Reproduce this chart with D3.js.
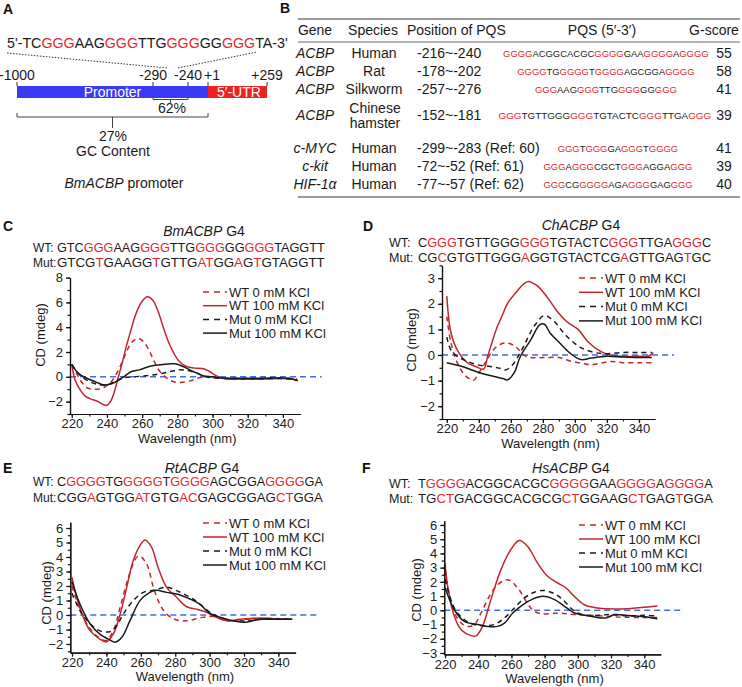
<!DOCTYPE html>
<html>
<head>
<meta charset="utf-8" />
<script src="https://d3js.org/d3.v7.min.js"></script>
<style>
  body { margin: 0; background: #fff; }
  svg { font-family: "Liberation Sans", Arial, sans-serif; }
  .axis path, .axis line { stroke: #111; stroke-width: 1.2px; }
  .axis text { font-size: 13px; fill: #222; font-family: "Liberation Sans", Arial, sans-serif; }
</style>
</head>
<body>
<svg id="fig" width="742" height="687"></svg>
<script>
// ---------- data ----------
// panel A
var promoterSeq = "5'-TC[GGG]AAG[GGG]TTG[GGG]GG[GGG]TA-3'";
var promoterTicks = [-1000, -290, -240, 1, 259];
var promoterTickLabels = ["-1000", "-290", "-240", "+1", "+259"];

// panel B table
var tblGenes = ["ACBP", "ACBP", "ACBP", "ACBP", "c-MYC", "c-kit", "HIF-1\u03b1"];
var tblSpecies = ["Human", "Rat", "Silkworm", "Chinese|hamster", "Human", "Human", "Human"];
var tblPositions = ["-216~-240", "-178~-202", "-257~-276", "-152~-181",
  "-299~-283 (Ref: 60)", "-72~-52 (Ref: 61)", "-77~-57 (Ref: 62)"];
var tblPqs = [
  "[GGGG]ACGGCACGC[GGGG]GAA[GGGG]A[GGGG]",
  "[GGGG]TG[GGGG]T[GGGG]AGCGGA[GGGG]",
  "[GGG]AAG[GGG]TTG[GGG]GG[GGG]",
  "[GGG]TGTTGGG[GGG]TGTACTC[GGG]TTGA[GGG]",
  "[GGG]T[GGG]GA[GGG]T[GGGG]",
  "[GGG]A[GGG]CGCT[GGG]AGGA[GGG]",
  "[GGG]CG[GGGG]AGA[GGG]GAG[GGG]"
];
var tblScores = [55, 58, 41, 39, 41, 39, 40];

// panels C-F sequences
var seqC = ["GTC[GGG]AAG[GGG]TTG[GGG]GG[GGG]TAGGTT", "GTCG[T]GAAGG[T]GTTG[AT]GG[A]G[T]GTAGGTT"];
var seqD = ["C[GGG]TGTTGGG[GGG]TGTACTC[GGG]TTGA[GGG]C", "CG[C]GTGTTGGG[A]GGTGTACTCG[A]GTTGAG[T]GC"];
var seqE = ["C[GGGG]TG[GGGG]T[GGGG]AGCGGA[GGGG]GA", "CGG[A]GTGG[AT]GTG[AC]GAGCGGAG[CT]GGA"];
var seqF = ["T[GGGG]ACGGCACGC[GGGG]GAA[GGGG]A[GGGG]A", "TG[CT]GACGGCACGCG[CT]GGAAG[CT]GAG[T]GGA"];

var legendLabels = ["WT 0 mM KCl", "WT 100 mM KCl", "Mut 0 mM KCl", "Mut 100 mM KCl"];

// CD spectra: [wavelength (nm), CD (mdeg)]
var cWt0 = [[220,1.0],[223,0.2],[226,-0.5],[229,-0.9],[233,-1.0],[237,-0.95],[240,-0.7],[243,-0.3],[246,0.4],[249,1.3],[252,2.3],[255,2.9],[258,3.1],[261,2.8],[264,2.1],[267,1.2],[270,0.45],[274,-0.1],[278,-0.4],[282,-0.45],[287,-0.35],[292,-0.1],[297,0.0],[305,-0.1],[320,-0.12],[335,-0.1],[348,-0.15]];
var cWt100 = [[220,1.0],[222,-0.3],[225,-1.1],[228,-1.6],[232,-1.85],[235,-2.0],[238,-2.25],[240,-2.3],[242,-2.0],[244,-1.3],[246.5,0.0],[249,1.3],[251,2.45],[253.5,3.7],[256,4.9],[258,5.6],[260,6.1],[263,6.45],[266,6.2],[269,5.3],[272,4.0],[275,2.8],[278,1.9],[281,1.25],[285,0.85],[290,0.7],[295,0.65],[298,0.45],[302,0.1],[307,-0.15],[315,-0.2],[325,-0.2],[335,-0.15],[343,-0.15],[348,-0.25]];
var cMut0 = [[220,1.0],[224.5,0.16],[230,-0.38],[236,-0.65],[240,-0.65],[244.5,-0.38],[249,-0.1],[255,0.0],[262,0.08],[270,0.24],[276,0.43],[281,0.56],[286,0.5],[291,0.3],[296.5,0.0],[302,-0.1],[315,-0.15],[330,-0.15],[342,-0.15],[348,-0.3]];
var cMut100 = [[220,1.0],[223.6,0.3],[228.3,-0.1],[235,-0.5],[238,-0.65],[241.6,-0.6],[245.4,-0.38],[249,-0.05],[254,0.43],[258.5,0.56],[264,0.83],[270,0.97],[278.6,1.05],[284,0.78],[289,0.43],[294.7,0.08],[300,0.0],[305,-0.1],[320,-0.12],[335,-0.1],[343,-0.12],[348.6,-0.3]];

var dWt0 = [[220,1.5],[222.5,0.5],[226.5,-0.3],[231,-0.77],[235,-0.96],[237,-0.98],[239,-0.8],[244,-0.3],[249,0.2],[253,0.4],[257,0.47],[261,0.4],[264,0.27],[268,0.0],[272,-0.1],[280,-0.1],[290,-0.1],[298,-0.25],[305,-0.33],[310,-0.38],[316,-0.32],[322,-0.25],[330,-0.3],[340,-0.3],[348,-0.3]];
var dWt100 = [[220,2.3],[222.5,0.9],[226.5,0.2],[233,-0.31],[238,-0.45],[243,-0.55],[245.5,-0.05],[248.5,0.55],[251.5,1.1],[255,1.6],[258,2.03],[264,2.5],[268,2.78],[271,2.87],[274,2.8],[277,2.68],[283,2.23],[289,1.7],[295,1.3],[302,1.0],[308,0.53],[316,0.14],[322,0.0],[330,-0.05],[340,-0.05],[346,-0.05],[349,0.1]];
var dMut0 = [[220,0.7],[222.5,0.2],[226.5,-0.05],[233,-0.25],[239,-0.38],[247,-0.45],[253,-0.52],[257,-0.58],[262,-0.31],[265,0.0],[268,0.34],[274.5,1.12],[281,1.54],[287,1.31],[293,0.86],[299.5,0.47],[305,0.25],[312,0.1],[320,0.05],[330,0.1],[340,0.1],[348,0.1]];
var dMut100 = [[220,-0.3],[229,-0.44],[241,-0.7],[249,-0.83],[255,-0.92],[258,-0.97],[262,-0.7],[266,-0.05],[272.5,0.6],[278,1.18],[281,1.2],[284.5,0.86],[290.5,0.47],[297,0.07],[303.8,-0.18],[310,-0.12],[320,-0.05],[330,-0.08],[340,-0.1],[348,-0.1]];

var eWt0 = [[220,2.0],[222.7,1.0],[228.5,-0.6],[234.3,-1.43],[240,-1.75],[244,-1.08],[248,0.53],[252.8,2.6],[257.6,3.98],[259.5,4.05],[263.4,3.52],[267.3,1.91],[271,0.76],[275,0.07],[280.8,-0.34],[286.7,-0.4],[294.4,-0.2],[302,-0.1],[310,-0.4],[320,-0.3],[330,-0.3],[340,-0.3],[348,-0.3]];
var eWt100 = [[220,2.6],[222.7,1.22],[226.6,-0.16],[230.5,-1.08],[236,-1.65],[240,-1.85],[244,-1.31],[248,0.07],[251.8,1.91],[255.6,3.75],[259.5,4.78],[262.4,5.17],[266.3,4.67],[270,3.29],[275,1.91],[280.8,1.22],[286.7,0.57],[292.5,0.4],[298.3,0.18],[304,-0.16],[310,-0.4],[317.5,-0.3],[329,-0.2],[338,-0.25],[348,-0.3]];
var eMut0 = [[220,1.5],[224.6,0.3],[230.5,-0.6],[236,-1.08],[242,-1.15],[246,-0.74],[249.8,0.07],[255.6,0.99],[261.5,1.56],[267.3,1.7],[275,1.91],[280.8,1.68],[288.6,1.22],[294.4,0.76],[300.2,0.18],[306,-0.16],[313.7,-0.4],[321,-0.4],[330,-0.3],[340,-0.25],[348,-0.3]];
var eMut100 = [[220,2.3],[224.6,0.76],[230.5,-0.6],[236,-1.3],[242,-1.72],[245,-1.88],[249,-1.54],[253.7,-0.39],[259.5,0.99],[265.3,1.56],[269,1.7],[275,1.56],[280.8,1.45],[288.6,1.1],[294,0.76],[300,0.12],[306,-0.16],[313.7,-0.4],[321,-0.5],[329,-0.3],[340,-0.3],[348,-0.3]];

var fWt0 = [[220,2.8],[223.7,0.5],[228.7,-0.78],[233.7,-1.13],[237.7,-1.0],[241.7,-0.19],[246.7,0.98],[251.7,1.8],[257.8,2.15],[263.8,1.57],[268.9,0.63],[273,0.0],[277.8,-0.24],[288,-0.2],[298,-0.3],[310,-0.36],[326,-0.48],[340,-0.5],[348,-0.5]];
var fWt100 = [[220,3.3],[221.6,1.69],[225.6,-0.42],[229.7,-1.36],[235.7,-1.78],[238.7,-1.8],[242.6,-1.13],[247.6,0.75],[253.7,2.86],[259.6,4.26],[264.7,4.9],[269.7,4.5],[275.7,3.33],[281.8,2.39],[287.8,1.92],[292.9,1.57],[297.9,0.98],[303.9,0.39],[312,0.16],[326,0.1],[338,0.2],[348,0.3]];
var fMut0 = [[220,2.2],[225.6,0.16],[231.6,-0.66],[237.7,-1.0],[243.7,-1.08],[249.7,-1.0],[255.8,-0.54],[261.8,0.16],[267.8,0.87],[273.9,1.27],[278.9,1.4],[285,1.22],[290.9,0.75],[297,0.04],[303,-0.3],[310,-0.36],[320,-0.3],[330,-0.4],[340,-0.35],[348,-0.4]];
var fMut100 = [[220,1.6],[225.6,0.04],[231.6,-0.78],[239.7,-1.0],[245.7,-1.13],[251.7,-1.13],[255.8,-0.9],[260.8,-0.19],[266.8,0.39],[272.8,0.79],[279,0.98],[286,0.75],[292,0.28],[298,-0.19],[305,-0.36],[317,-0.54],[322,-0.3],[330,-0.36],[340,-0.45],[348,-0.6]];

// ---------- drawing ----------
var SEQ_RED = "#e3262d", CURVE_RED = "#c3252c", INK = "#1a1a1a";
var svg = d3.select("#fig");

// coloured sequence; if width given, font size is scaled so the text spans it
function seqText(g, x, y, str, size, width, anchor) {
  var t = g.append("text").attr("x", x).attr("y", y)
    .attr("font-size", size).attr("text-anchor", anchor || "start");
  str.split(/(\[[^\]]*\])/).filter(Boolean).forEach(function(s) {
    var red = s.charAt(0) === "[";
    t.append("tspan").attr("fill", red ? SEQ_RED : INK).text(red ? s.slice(1, -1) : s);
  });
  if (width) {
    var w = t.node().getComputedTextLength();
    t.attr("font-size", (size * width / w).toFixed(2));
  }
  return t;
}

function letter(x, y, s) {
  svg.append("text").attr("x", x).attr("y", y).attr("font-size", 14)
    .attr("font-weight", "bold").attr("fill", "#111").text(s);
}

// ----- panel A -----
letter(3, 14, "A");
var gA = svg.append("g");
seqText(gA, 7, 48, promoterSeq, 14, 281);
gA.append("line").attr("x1", 7).attr("y1", 53).attr("x2", 167).attr("y2", 68)
  .attr("stroke", "#333").attr("stroke-dasharray", "1.5,1.5");
gA.append("line").attr("x1", 178).attr("y1", 68).attr("x2", 257).attr("y2", 52)
  .attr("stroke", "#333").attr("stroke-dasharray", "1.5,1.5");

var pos = d3.scaleLinear().domain(promoterTicks).range([17, 153, 188, 208, 267]);
gA.append("rect").attr("x", pos(-1000)).attr("y", 86).attr("width", pos(1) - pos(-1000))
  .attr("height", 12).attr("fill", "#3a3af2");
gA.append("rect").attr("x", pos(1)).attr("y", 86).attr("width", pos(259) - pos(1))
  .attr("height", 12).attr("fill", "#ee2222");
gA.append("text").attr("x", (pos(-1000) + pos(1)) / 2).attr("y", 97).attr("text-anchor", "middle")
  .attr("font-size", 14).attr("fill", "#fff").text("Promoter");
gA.append("text").attr("x", pos(1) + 9).attr("y", 97)
  .attr("font-size", 14).attr("fill", "#fff").text("5\u2032-UTR");
promoterTicks.forEach(function(v, i) {
  gA.append("line").attr("x1", pos(v)).attr("x2", pos(v)).attr("y1", 82).attr("y2", 86)
    .attr("stroke", "#333");
  gA.append("text").attr("x", pos(v) + (i === 3 ? 4 : 0)).attr("y", 80)
    .attr("text-anchor", "middle").attr("font-size", 14).attr("fill", INK)
    .text(promoterTickLabels[i]);
});
function bracket(a, b, top, bottom, stem) {
  var m = (pos(a) + pos(b)) / 2;
  gA.append("path").attr("fill", "none").attr("stroke", "#444").attr("stroke-width", 1)
    .attr("d", "M" + pos(a) + "," + top + "V" + bottom + "H" + pos(b) + "V" + top +
      "M" + m + "," + bottom + "V" + stem);
}
bracket(-290, -240, 96, 99.5, 103);
gA.append("text").attr("x", 172).attr("y", 113).attr("text-anchor", "middle")
  .attr("font-size", 14).attr("fill", INK).text("62%");
bracket(-1000, 1, 113, 117, 128);
gA.append("text").attr("x", 113).attr("y", 141).attr("text-anchor", "middle")
  .attr("font-size", 14).attr("fill", INK).text("27%");
gA.append("text").attr("x", 113).attr("y", 156).attr("text-anchor", "middle")
  .attr("font-size", 14).attr("fill", INK).text("GC Content");
var cap = gA.append("text").attr("x", 124).attr("y", 188).attr("text-anchor", "middle")
  .attr("font-size", 14).attr("fill", INK);
cap.append("tspan").attr("font-style", "italic").text("BmACBP");
cap.append("tspan").text(" promoter");

// ----- panel B -----
letter(280, 13, "B");
var gB = svg.append("g").attr("font-size", 14).attr("fill", INK);
gB.append("line").attr("x1", 298).attr("x2", 740).attr("y1", 19).attr("y2", 19)
  .attr("stroke", "#9a9a9a").attr("stroke-width", 2);
gB.append("line").attr("x1", 298).attr("x2", 740).attr("y1", 42).attr("y2", 42)
  .attr("stroke", "#9a9a9a").attr("stroke-width", 1.5);
gB.append("line").attr("x1", 298).attr("x2", 740).attr("y1", 197).attr("y2", 197)
  .attr("stroke", "#9a9a9a").attr("stroke-width", 2);
[["Gene", 315, "middle"], ["Species", 373, "middle"], ["Position of PQS", 407, "start"],
 ["PQS (5\u2032-3\u2032)", 602, "middle"], ["G-score", 714, "middle"]].forEach(function(h) {
  gB.append("text").attr("x", h[1]).attr("y", 35).attr("text-anchor", h[2]).text(h[0]);
});
var rowY = [58, 76, 94, 120, 153, 171, 189];
var pqsCenter = [606, 606, 606, 605, 618, 618, 618];
tblGenes.forEach(function(g, i) {
  var y = rowY[i];
  gB.append("text").attr("x", 315).attr("y", y).attr("text-anchor", "middle")
    .attr("font-style", "italic").text(g);
  var sp = tblSpecies[i].split("|");
  if (sp.length > 1) {
    sp.forEach(function(s, k) {
      gB.append("text").attr("x", 375).attr("y", y - 7 + k * 15).attr("text-anchor", "middle").text(s);
    });
  } else {
    gB.append("text").attr("x", 374).attr("y", y).attr("text-anchor", "middle").text(sp[0]);
  }
  gB.append("text").attr("x", 417).attr("y", y).text(tblPositions[i]);
  var n = tblPqs[i].replace(/[\[\]]/g, "").length;
  seqText(gB, pqsCenter[i] - n * 3.55, y - 1, tblPqs[i], 10, n * 7.1);
  gB.append("text").attr("x", 724).attr("y", y).attr("text-anchor", "middle").text(tblScores[i]);
});

// ----- CD panels -----
var panels = [
  { letter: "C", lx: 3, ly: 231, gene: "BmACBP", tx: 204, ty: 236, labX: 33, labSize: 12, seqX: 57, seqW: 268,
    wtY: 251.5, mutY: 266.5, seq: seqC, series: [cWt0, cWt100, cMut0, cMut100],
    xd: [219, 350], xr: [70, 300.5], yd: [-3, 8], yr: [414, 277.6],
    yMajor: [-2, 0, 2, 4, 6, 8], yMinor: d3.range(-3, 8.01, 1),
    legX: 203, legY: 292, legDy: 13.7, ylab: [45, 335] },
  { letter: "D", lx: 363, ly: 231, gene: "ChACBP", tx: 581, ty: 230, labX: 389, labSize: 12.5, seqX: 418, seqW: 293,
    wtY: 247, mutY: 261.5, seq: seqD, series: [dWt0, dWt100, dMut0, dMut100],
    xd: [217, 350], xr: [442, 655], yd: [-2.5, 3.5], yr: [419, 265.4],
    yMajor: [-2, -1, 0, 1, 2, 3], yMinor: d3.range(-2.5, 3.51, 0.5),
    legX: 579, legY: 278, legDy: 14.3, ylab: [416, 340] },
  { letter: "E", lx: 3, ly: 473, gene: "RtACBP", tx: 202, ty: 473, labX: 33, labSize: 12, seqX: 57, seqW: 266,
    wtY: 486, mutY: 502, seq: seqE, series: [eWt0, eWt100, eMut0, eMut100],
    xd: [219, 350], xr: [70.3, 295.6], yd: [-2.6, 6.4], yr: [652.7, 522.2],
    yMajor: [-2, -1, 0, 1, 2, 3, 4, 5, 6], yMinor: d3.range(-2.5, 6.01, 0.5),
    legX: 203, legY: 523, legDy: 14, ylab: [51, 593] },
  { letter: "F", lx: 362, ly: 473, gene: "HsACBP", tx: 571, ty: 473, labX: 389, labSize: 12.5, seqX: 418, seqW: 295,
    wtY: 487.5, mutY: 502.5, seq: seqF, series: [fWt0, fWt100, fMut0, fMut100],
    xd: [219.5, 350], xr: [444.2, 660.8], yd: [-3.1, 6.3], yr: [654.4, 520.7],
    yMajor: [-3, -2, -1, 0, 1, 2, 3, 4, 5, 6], yMinor: d3.range(-3, 6.01, 0.5),
    legX: 579, legY: 525, legDy: 14, ylab: [421, 590] }
];
var styles = [
  { color: CURVE_RED, dash: "5,4" },
  { color: CURVE_RED, dash: null },
  { color: INK, dash: "5,4" },
  { color: INK, dash: null }
];

panels.forEach(function(p) {
  var g = svg.append("g");
  letter(p.lx, p.ly, p.letter);
  var title = g.append("text").attr("x", p.tx).attr("y", p.ty).attr("text-anchor", "middle")
    .attr("font-size", 14).attr("fill", INK);
  title.append("tspan").attr("font-style", "italic").text(p.gene);
  title.append("tspan").text(" G4");
  g.append("text").attr("x", p.labX).attr("y", p.wtY).attr("font-size", p.labSize).attr("fill", INK).text("WT:");
  g.append("text").attr("x", p.labX).attr("y", p.mutY).attr("font-size", p.labSize).attr("fill", INK).text("Mut:");
  seqText(g, p.seqX, p.wtY, p.seq[0], 13, p.seqW);
  seqText(g, p.seqX, p.mutY, p.seq[1], 13, p.seqW);

  var x = d3.scaleLinear().domain(p.xd).range(p.xr);
  var y = d3.scaleLinear().domain(p.yd).range(p.yr);

  // zero reference
  g.append("line").attr("x1", x(p.xd[0])).attr("x2", x(362)).attr("y1", y(0)).attr("y2", y(0))
    .attr("stroke", "#3f6fe6").attr("stroke-width", 1.6).attr("stroke-dasharray", "6,4");

  var line = d3.line().x(function(d) { return x(d[0]); }).y(function(d) { return y(d[1]); })
    .curve(d3.curveCatmullRom.alpha(0.5));
  p.series.forEach(function(s, i) {
    g.append("path").datum(s).attr("d", line).attr("fill", "none")
      .attr("stroke", styles[i].color).attr("stroke-width", 1.5)
      .attr("stroke-dasharray", styles[i].dash);
  });

  // axes
  var yb = p.yr[0];
  var xMinor = d3.range(220, 350, 10);
  g.append("g").attr("class", "axis").attr("transform", "translate(0," + yb + ")")
    .call(d3.axisBottom(x).tickValues(xMinor).tickSize(2.5).tickFormat("").tickSizeOuter(0));
  g.append("g").attr("class", "axis").attr("transform", "translate(0," + yb + ")")
    .call(d3.axisBottom(x).tickValues(d3.range(220, 341, 20)).tickSize(4).tickPadding(1).tickSizeOuter(0));
  var xl = p.xr[0];
  g.append("g").attr("class", "axis").attr("transform", "translate(" + xl + ",0)")
    .call(d3.axisLeft(y).tickValues(p.yMinor).tickSize(2.5).tickFormat("").tickSizeOuter(0));
  g.append("g").attr("class", "axis").attr("transform", "translate(" + xl + ",0)")
    .call(d3.axisLeft(y).tickValues(p.yMajor).tickSize(4).tickPadding(3).tickSizeOuter(0)
      .tickFormat(d3.format("d")));

  g.append("text").attr("x", (p.xr[0] + p.xr[1]) / 2 + 2).attr("y", yb + 28.5).attr("text-anchor", "middle")
    .attr("font-size", 13).attr("fill", INK).text("Wavelength (nm)");
  g.append("text").attr("transform", "translate(" + p.ylab[0] + "," + p.ylab[1] + ") rotate(-90)")
    .attr("text-anchor", "middle").attr("font-size", 13).attr("fill", INK).text("CD (mdeg)");

  // legend
  legendLabels.forEach(function(lab, i) {
    var ly = p.legY + i * p.legDy;
    g.append("line").attr("x1", p.legX).attr("x2", p.legX + 24).attr("y1", ly).attr("y2", ly)
      .attr("stroke", styles[i].color).attr("stroke-width", 1.5)
      .attr("stroke-dasharray", styles[i].dash ? "6,5" : null);
    g.append("text").attr("x", p.legX + 26).attr("y", ly + 4.5).attr("font-size", 13)
      .attr("fill", INK).text(lab);
  });
});
</script>
</body>
</html>
